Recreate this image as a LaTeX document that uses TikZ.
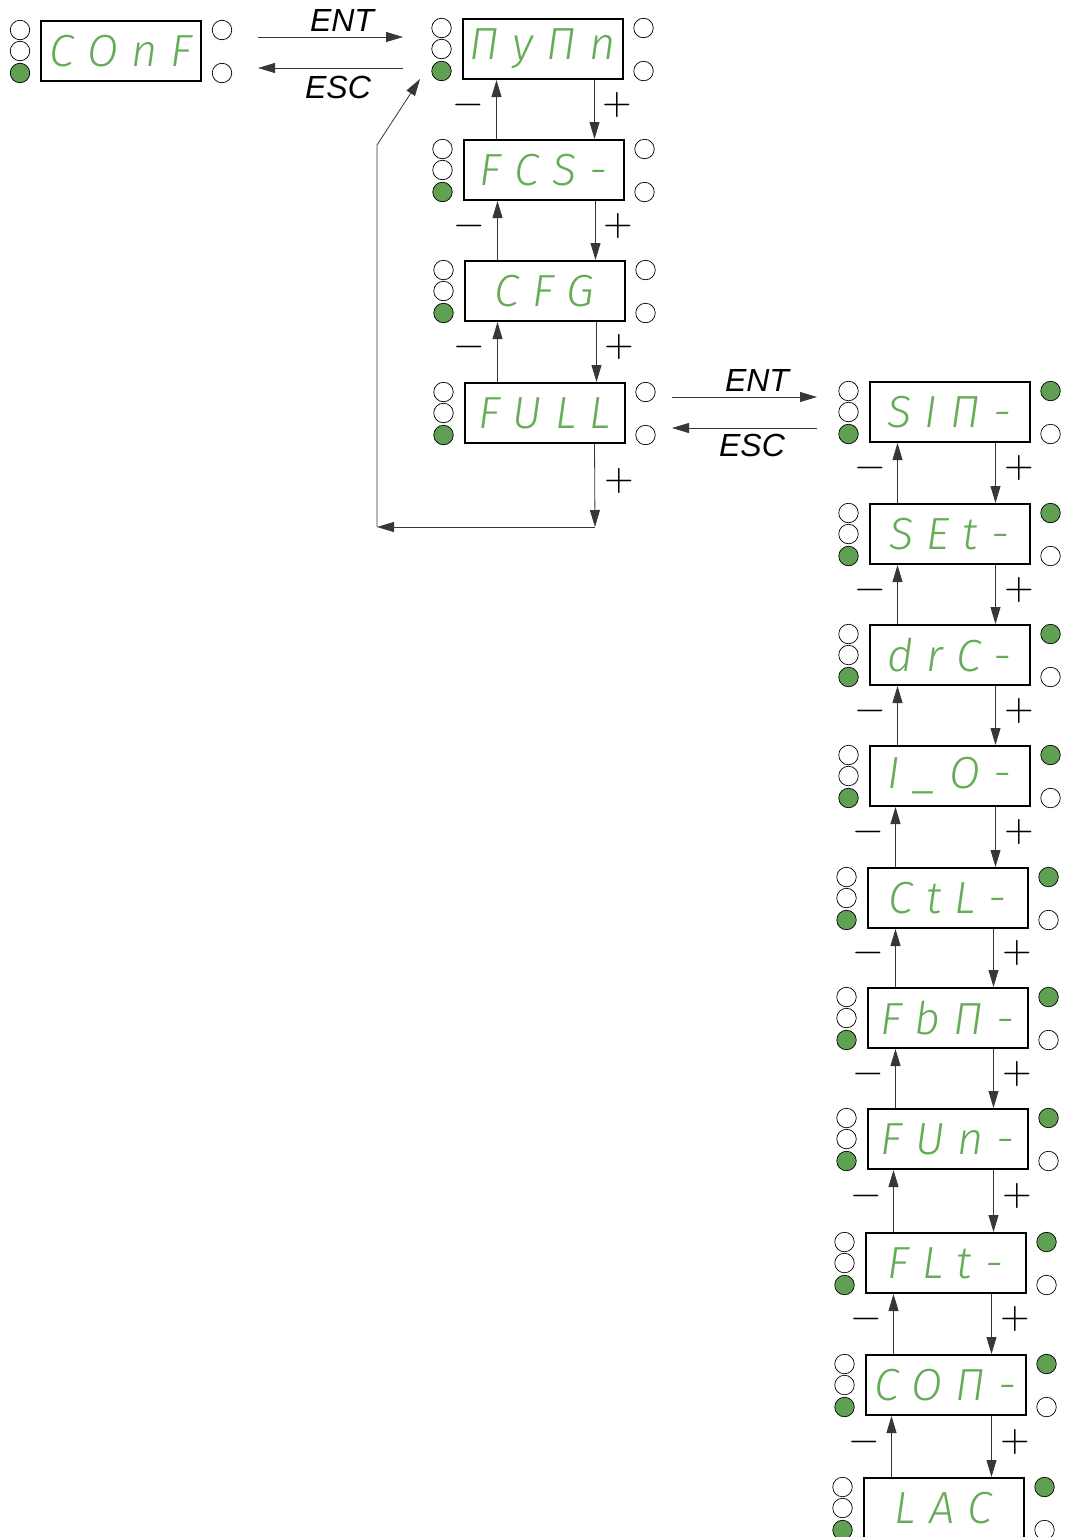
\documentclass[tikz,border=0pt]{standalone}
\usepackage{fontspec}
\setmainfont{Liberation Sans}
\IfFontExistsTF{Fira Sans Light Italic}
  {\newfontfamily\segfont{Fira Sans Light Italic}[WordSpace=1.05]}
  {\newfontfamily\segfont{Liberation Sans Italic}}
\newfontfamily\signfont{lmroman10-regular}[Extension=.otf]
\usetikzlibrary{arrows.meta,calc,positioning}
\definecolor{ledgreen}{RGB}{96,160,82}
\definecolor{seggreen}{RGB}{100,172,86}
\definecolor{wire}{RGB}{55,55,55}
\begin{document}
\begin{tikzpicture}[x=1pt,y=-1pt,
  disp/.style={draw,line width=2pt,minimum width=160pt,minimum height=60pt,inner sep=0pt,
    text=seggreen,font=\fontsize{45}{45}\segfont},
  led/.style={circle,draw,line width=0.7pt,minimum size=19.5pt,inner sep=0pt},
  ledon/.style={led,fill=ledgreen},
  wirearrow/.style={draw=wire,line width=0.8pt,-{Triangle[length=17pt,width=10pt]}},
  key/.style={font=\fontsize{32}{32}\selectfont\itshape,inner sep=0pt},
  sign/.style={font=\fontsize{38}{38}\signfont,inner sep=0pt,anchor=base,yshift=-9.5pt}]
\useasboundingbox (0,0) rectangle (1067,1537);
% displays
\node[disp] (conf) at (121,51) {C O n F};
\node[disp] (mymn) at (542.5,49) {Π y Π n};
\node[disp] (fcs) at (543.5,170) {F C S -};
\node[disp] (cfg) at (544.5,291) {C F G};
\node[disp] (full) at (544.5,413) {F U L L};
\foreach \d/\x/\y/\t in {sim/949.5/412/{S I Π -},set/949.5/534/{S E t -},
    drc/949.5/655/{d r C -},io/949.5/776/{I \_ O -},ctl/947.5/898/{C t L -},
    fbm/947.5/1018/{F b Π -},fun/947.5/1139/{F U n -},flt/945.5/1263/{F L t -},
    com/945.5/1385/{C O Π -},lac/943.5/1508/{L A C}}
  \node[disp] (\d) at (\x,\y) {\t};
% leds
\foreach \d in {conf,mymn,fcs,cfg,full,sim,set,drc,io,ctl,fbm,fun,flt,com,lac} {
  \node[led] (\d-l1) at ([xshift=-20pt,yshift=21pt]\d.west) {};
  \node[led] (\d-l2) at ([xshift=-20pt]\d.west) {};
  \node[ledon] (\d-l3) at ([xshift=-20pt,yshift=-22pt]\d.west) {};
}
\foreach \d in {conf,mymn,fcs,cfg,full} {
  \node[led] (\d-r1) at ([xshift=20pt,yshift=21pt]\d.east) {};
  \node[led] (\d-r2) at ([xshift=20pt,yshift=-22pt]\d.east) {};
}
\foreach \d in {sim,set,drc,io,ctl,fbm,fun,flt,com,lac} {
  \node[ledon] (\d-r1) at ([xshift=20pt,yshift=21pt]\d.east) {};
  \node[led] (\d-r2) at ([xshift=20pt,yshift=-22pt]\d.east) {};
}
% ENT / ESC
\coordinate (ent1a) at (258,37);
\coordinate (ent1b) at (403,37);
\coordinate (esc1a) at (403,68);
\coordinate (esc1b) at (258,68);
\draw[wirearrow] (ent1a) -- (ent1b);
\draw[wirearrow] (esc1a) -- (esc1b);
\node[key] (ent1) at (342,20) {ENT};
\node[key] (esc1) at (338,87) {ESC};
\coordinate (ent2a) at (672,397);
\coordinate (ent2b) at (817,397);
\coordinate (esc2a) at (817,428);
\coordinate (esc2b) at (672,428);
\draw[wirearrow] (ent2a) -- (ent2b);
\draw[wirearrow] (esc2a) -- (esc2b);
\node[key] (ent2) at (757,380) {ENT};
\node[key] (esc2) at (752,445) {ESC};
% up / down
\foreach \a/\b in {mymn/fcs,fcs/cfg,cfg/full} {
  \draw[wirearrow] ([xshift=34pt]\b.north west) -- ([xshift=34pt]\b.north west |- \a.south)
    node[sign,pos=.58,xshift=-28pt,name=minus-\a] {−};
  \draw[wirearrow] ([xshift=133pt]\a.south west) -- ([xshift=133pt]\a.south west |- \b.north)
    node[sign,pos=.42,xshift=23pt,name=plus-\a] {+};
}
\foreach \a/\b in {sim/set,set/drc,drc/io,io/ctl,ctl/fbm,fbm/fun,fun/flt,flt/com,com/lac} {
  \draw[wirearrow] ([xshift=29pt]\b.north west) -- ([xshift=29pt]\b.north west |- \a.south)
    node[sign,pos=.58,xshift=-27pt,name=minus-\a] {−};
  \draw[wirearrow] ([xshift=127pt]\a.south west) -- ([xshift=127pt]\a.south west |- \b.north)
    node[sign,pos=.42,xshift=24pt,name=plus-\a] {+};
}
% back to the top
\coordinate (loopend) at (595,527);
\coordinate (loopcorner) at (377,527);
\coordinate (loopbend) at (377,145);
\coordinate (looptip) at (420,79);
\draw[wirearrow] ([xshift=131pt]full.south west) -- (loopend)
  node[sign,pos=.45,xshift=25pt,name=plus-full] {+};
\draw[wirearrow] (loopend) -- (loopcorner);
\draw[wirearrow] (loopcorner) -- (loopbend) -- (looptip);
\end{tikzpicture}
\end{document}
